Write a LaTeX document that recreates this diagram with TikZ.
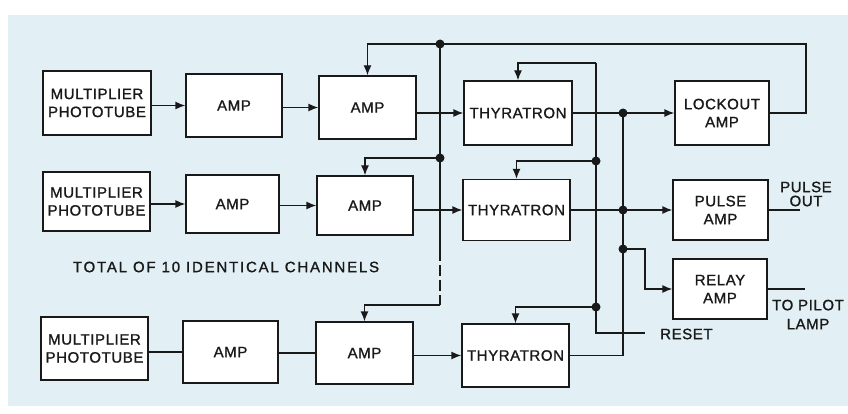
\documentclass[tikz,border=0pt]{standalone}
\usepackage{fontspec}
\setmainfont{Liberation Sans}[LetterSpace=4, FakeBold=1.2]
\usetikzlibrary{arrows.meta,calc}
\definecolor{bgblue}{RGB}{226,240,245}
\definecolor{ink}{RGB}{25,25,25}
\begin{document}
\begin{tikzpicture}[x=1pt,y=-1pt,
  box/.style={draw=ink, fill=white, line width=1.3pt, inner sep=0pt, align=center,
    font=\fontsize{15}{18}\selectfont, text=ink},
  wire/.style={draw=ink, line width=1.3pt},
  arr/.style={wire, -{Latex[length=10pt,width=8pt]}},
  lbl/.style={font=\fontsize{15}{18}\selectfont, text=ink, align=center, inner sep=0pt}]
\useasboundingbox (0,0) rectangle (848,414);
\fill[white] (0,0) rectangle (848,414);
\fill[bgblue] (8,15) rectangle (848,406);

% row 1
\node[box, minimum width=108pt, minimum height=64pt] (mp1) at (97,103) {MULTIPLIER\\PHOTOTUBE};
\node[box, minimum width=96pt, minimum height=63pt] (amp1a) at (234,105.5) {AMP};
\node[box, minimum width=97pt, minimum height=63pt] (amp1b) at (367.5,107.5) {AMP};
\node[box, minimum width=108pt, minimum height=64pt] (thy1) at (518,113) {THYRATRON};
\node[box, minimum width=94pt, minimum height=64pt] (lock) at (722,113) {LOCKOUT\\AMP};
% row 2
\node[box, minimum width=107pt, minimum height=59pt] (mp2) at (96.5,201.5) {MULTIPLIER\\PHOTOTUBE};
\node[box, minimum width=93pt, minimum height=58pt] (amp2a) at (232.5,204) {AMP};
\node[box, minimum width=96pt, minimum height=59pt] (amp2b) at (365,205.5) {AMP};
\node[box, minimum width=107pt, minimum height=61pt] (thy2) at (516.5,210) {THYRATRON};
\node[box, minimum width=95pt, minimum height=60pt] (pulse) at (720.5,210) {PULSE\\AMP};
\node[box, minimum width=94pt, minimum height=60pt] (relay) at (720,289) {RELAY\\AMP};
% row 3
\node[box, minimum width=107pt, minimum height=63pt] (mp3) at (94.5,348.5) {MULTIPLIER\\PHOTOTUBE};
\node[box, minimum width=95pt, minimum height=62pt] (amp3a) at (230.5,352) {AMP};
\node[box, minimum width=97pt, minimum height=62pt] (amp3b) at (364.5,353) {AMP};
\node[box, minimum width=107pt, minimum height=63pt] (thy3) at (515.5,355.5) {THYRATRON};

% junctions
\coordinate (tr) at (806,44);
\coordinate (j1) at (440,44);
\coordinate (j2) at (440,158);
\coordinate (jd1) at (440,250);
\coordinate (jd2) at (440,305);
\coordinate (r0) at (596,63);
\coordinate (r1) at (596,161);
\coordinate (r2) at (596,307);
\coordinate (rb) at (596,333);
\coordinate (rend) at (645,333);
\coordinate (o1) at (623,113);
\coordinate (o2) at (623,210);
\coordinate (o3) at (623,249);
\coordinate (rc) at (645,249);
\coordinate (pout) at (800,0);
\coordinate (lout) at (805,0);

% signal chains
\draw[arr] (mp1.east |- amp1a.west) -- (amp1a.west);
\draw[arr] (amp1a.east |- amp1b.west) -- (amp1b.west);
\draw[arr] (amp1b.east |- thy1.west) -- (thy1.west);
\draw[arr] (mp2.east |- amp2a.west) -- (amp2a.west);
\draw[arr] (amp2a.east |- amp2b.west) -- (amp2b.west);
\draw[arr] (amp2b.east |- thy2.west) -- (thy2.west);
\draw[wire] (mp3.east |- amp3a.west) -- (amp3a.west);
\draw[wire] (amp3a.east |- amp3b.west) -- (amp3b.west);
\draw[arr] (amp3b.east |- thy3.west) -- (thy3.west);

% lockout bus
\draw[arr] (lock.east) -| (tr) -| (amp1b.north);
\draw[wire] (j1) -- (j2) -- (jd1);
\draw[arr] (j2) -| (amp2b.north);
\draw[wire, dash pattern=on 11pt off 4pt] (jd1) -- (jd2);
\draw[arr] (jd2) -| (amp3b.north);

% reset bus
\draw[arr] (r0) -| (thy1.north);
\draw[arr] (r1) -| (thy2.north);
\draw[arr] (r2) -| (thy3.north);
\draw[wire] (r0) -- (rb) -- (rend);

% output bus
\draw[arr] (thy1.east) -- (lock.west);
\draw[arr] (thy2.east) -- (pulse.west);
\draw[wire] (o1) -- (o3);
\draw[wire] (thy3.east) -| (o3);
\draw[arr] (o3) -- (rc) |- (relay.west);
\draw[wire] (pulse.east) -- (pulse.east -| pout);
\draw[wire] (relay.east) -- (relay.east -| lout);

\foreach \p in {j1,j2,r1,r2,o1,o2,o3} \fill[ink] (\p) circle (4.5pt);

% labels
\node[lbl] (pulseout) at (806,194) {PULSE\\[-4pt]OUT};
\node[lbl] (pilot) at (808,314.5) {TO PILOT\\[1pt]LAMP};
\node[lbl, anchor=west] (reset) at (660,334) {RESET};
\node[lbl, font=\fontsize{15}{18}\selectfont\addfontfeature{LetterSpace=12}] (total) at (226,267) {TOTAL OF 10 IDENTICAL CHANNELS};
\end{tikzpicture}
\end{document}
